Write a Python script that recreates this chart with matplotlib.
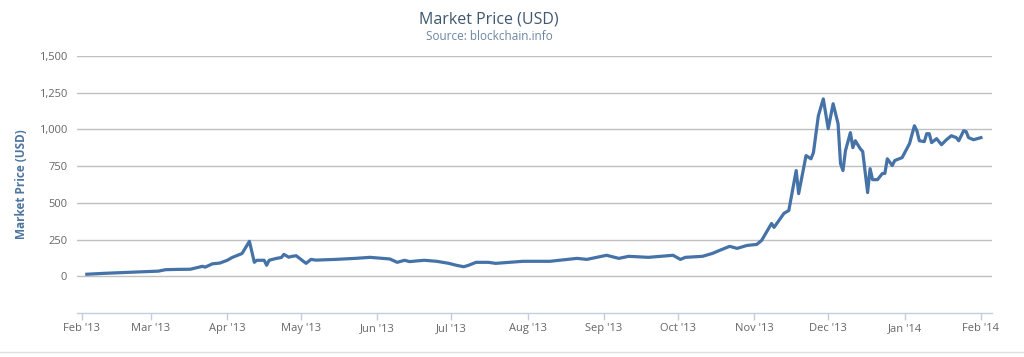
import matplotlib
matplotlib.use("Agg")
import matplotlib.dates as mdates
import matplotlib.pyplot as plt
import numpy as np
import pandas as pd
from matplotlib.lines import Line2D
from matplotlib.ticker import FuncFormatter

# ── 資料：比特幣市價（USD） ─────────────────────────────────
dates = [
    "2013-02-03", "2013-02-10", "2013-02-20", "2013-03-01", "2013-03-04",
    "2013-03-07", "2013-03-12", "2013-03-17", "2013-03-22", "2013-03-23",
    "2013-03-26", "2013-03-29", "2013-04-01", "2013-04-03", "2013-04-07",
    "2013-04-10", "2013-04-12", "2013-04-13", "2013-04-16", "2013-04-17",
    "2013-04-18", "2013-04-21", "2013-04-23", "2013-04-24", "2013-04-26",
    "2013-04-27", "2013-04-29", "2013-05-03", "2013-05-05", "2013-05-07",
    "2013-05-10", "2013-05-15", "2013-05-23", "2013-05-29", "2013-06-03",
    "2013-06-06", "2013-06-09", "2013-06-12", "2013-06-14", "2013-06-20",
    "2013-06-25", "2013-06-30", "2013-07-03", "2013-07-06", "2013-07-08",
    "2013-07-11", "2013-07-16", "2013-07-19", "2013-07-30", "2013-08-10",
    "2013-08-21", "2013-08-25", "2013-09-02", "2013-09-07", "2013-09-11",
    "2013-09-19", "2013-09-29", "2013-10-02", "2013-10-04", "2013-10-11",
    "2013-10-15", "2013-10-18", "2013-10-22", "2013-10-25", "2013-10-29",
    "2013-11-02", "2013-11-04", "2013-11-08", "2013-11-09", "2013-11-11",
    "2013-11-13", "2013-11-15", "2013-11-18", "2013-11-19", "2013-11-22",
    "2013-11-24", "2013-11-25", "2013-11-27", "2013-11-29", "2013-12-01",
    "2013-12-03", "2013-12-05", "2013-12-06", "2013-12-07", "2013-12-08",
    "2013-12-10", "2013-12-11", "2013-12-12", "2013-12-14", "2013-12-15",
    "2013-12-17", "2013-12-18", "2013-12-19", "2013-12-21", "2013-12-23",
    "2013-12-24", "2013-12-25", "2013-12-27", "2013-12-28", "2013-12-31",
    "2014-01-03", "2014-01-05", "2014-01-06", "2014-01-07", "2014-01-09",
    "2014-01-10", "2014-01-11", "2014-01-12", "2014-01-14", "2014-01-16",
    "2014-01-18", "2014-01-20", "2014-01-22", "2014-01-23", "2014-01-25",
    "2014-01-26", "2014-01-27", "2014-01-29", "2014-02-01",
]
prices = [
    14, 20, 27, 33, 35,
    45, 47, 48, 68, 62,
    85, 90, 109, 128, 155,
    238, 95, 109, 109, 75,
    109, 122, 128, 149, 130,
    135, 140, 88, 115, 110,
    112, 115, 122, 129, 122,
    118, 95, 109, 100, 109,
    102, 88, 75, 65, 75,
    95, 95, 88, 102, 102,
    122, 115, 143, 122, 136,
    129, 143, 115, 129, 136,
    156, 177, 204, 190, 210,
    217, 245, 360, 333, 380,
    428, 448, 720, 563, 822,
    800, 842, 1093, 1208, 1005,
    1175, 1039, 767, 720, 855,
    978, 876, 923, 869, 850,
    570, 733, 658, 658, 700,
    700, 800, 754, 788, 808,
    903, 1025, 991, 923, 917,
    971, 971, 910, 937, 896,
    930, 957, 944, 923, 991,
    985, 944, 930, 944,
]
y_ticks = [0, 250, 500, 750, 1000, 1250, 1500]
x_start, x_end = "2013-01-30", "2014-02-05 12:00"

TITLE_COLOR = "#3E576F"
SUBTITLE_COLOR = "#6D869F"
LINE_COLOR = "#4572A7"
LABEL_COLOR = "#666666"
AXIS_TITLE_COLOR = "#4D759E"

plt.rcParams["font.family"] = ["Open Sans", "DejaVu Sans"]

fig = plt.figure(figsize=(10.24, 3.57), dpi=100)
ax = fig.add_axes([77 / 1024, 44 / 357, 915 / 1024, 257 / 357])

ax.plot(pd.to_datetime(dates), prices, color=LINE_COLOR, linewidth=2.3,
        solid_joinstyle="round", zorder=3)

ax.set_xlim(pd.Timestamp(x_start), pd.Timestamp(x_end))
ax.set_ylim(-250, 1500)
ax.set_yticks(y_ticks)
ax.yaxis.set_major_formatter(FuncFormatter(lambda v, _: f"{int(v):,}"))
ax.grid(axis="y", color="#C0C0C0", linewidth=1.0)
ax.set_axisbelow(True)

ax.xaxis.set_major_locator(mdates.MonthLocator())
ax.xaxis.set_major_formatter(mdates.DateFormatter("%b '%y"))

for side in ("top", "right", "left"):
    ax.spines[side].set_visible(False)
ax.spines["bottom"].set_color("#C0D0E0")
ax.spines["bottom"].set_linewidth(1.0)

ax.tick_params(axis="x", colors="#C0D0E0", length=5, width=1, labelcolor=LABEL_COLOR,
               labelsize=8, pad=2)
ax.tick_params(axis="y", length=0, labelcolor=LABEL_COLOR, labelsize=8, pad=7)

ax.set_ylabel("Market Price (USD)", color=AXIS_TITLE_COLOR, fontsize=8.5,
              fontweight="bold", labelpad=8)

fig.text(489 / 1024, 1 - 20 / 357, "Market Price (USD)", ha="center", va="center",
         color=TITLE_COLOR, fontsize=11.5)
fig.text(489 / 1024, 1 - 37 / 357, "Source: blockchain.info", ha="center", va="center",
         color=SUBTITLE_COLOR, fontsize=8.5)

# 底部淡灰框線
fig.add_artist(Line2D([0, 1], [1 - 352 / 357] * 2, color="#E0E0E0", linewidth=1,
                      transform=fig.transFigure))

fig.savefig("out.png", dpi=100)
